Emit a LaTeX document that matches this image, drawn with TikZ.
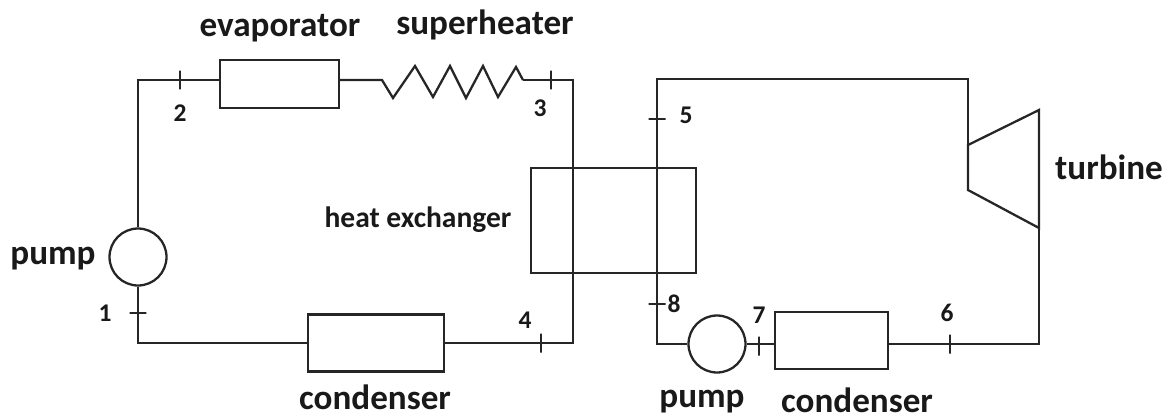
\documentclass[tikz,border=0pt]{standalone}
\usepackage{fontspec}
\setmainfont{Carlito}
\tikzset{
  wire/.style={draw=black!85, line width=1.3pt, line join=miter},
  unit/.style={wire, rectangle, inner sep=0pt},
  rotor/.style={wire, circle, inner sep=0pt, minimum size=1.14cm},
  vtick/.style={wire, rectangle, inner sep=0pt, minimum width=0pt, minimum height=0.38cm},
  htick/.style={wire, rectangle, inner sep=0pt, minimum height=0pt, minimum width=0.34cm},
  biglabel/.style={text=black!90, font=\fontsize{20}{22}\selectfont\bfseries, inner sep=0pt},
  midlabel/.style={text=black!90, font=\fontsize{16.8}{18}\selectfont\bfseries, inner sep=0pt},
  numlabel/.style={text=black!90, font=\fontsize{14.5}{16}\selectfont\bfseries, inner sep=0pt}
}
\begin{document}
\begin{tikzpicture}[x=0.02cm,y=-0.02cm]
    \useasboundingbox (0,0) rectangle (1171,419);
    % left loop
    \node[unit, minimum width=2.38cm, minimum height=0.96cm] (evaporator) at (279.5,84) {};
    \node[unit, minimum width=2.72cm, minimum height=1.14cm] (condenserA) at (376,343) {};
    \node[rotor] (pumpA) at (138,257) {};
    \node[vtick] (tick2) at (180,80) {};
    \node[vtick] (tick3) at (551,80) {};
    \node[vtick] (tick4) at (541,343) {};
    \node[htick] (tick1) at (138,313) {};
    \coordinate (coilin) at (382,80);
    \coordinate (coilout) at (523,80);
    \draw[wire] (pumpA.north) |- (evaporator.west |- tick2);
    \draw[wire] (evaporator.east |- tick2) -- (coilin)
      -- (393,98) -- (415,66) -- (433,97) -- (450,66) -- (466,98)
      -- (483,66) -- (498,97) -- (516,67) -- (coilout);
    \draw[wire] (coilout) -- (573,80) |- (condenserA.east);
    \draw[wire] (condenserA.west) -| (pumpA.south);
    % heat exchanger
    \node[unit, minimum width=3.3cm, minimum height=2.1cm] (exchanger) at (613.5,220.5) {};
    % right loop
    \node[rotor] (pumpB) at (717,344) {};
    \node[unit, minimum width=2.26cm, minimum height=1.14cm] (condenserB) at (831.5,340.5) {};
    \node[vtick] (tick6) at (950,344) {};
    \node[vtick] (tick7) at (759,346) {};
    \node[htick] (tick5) at (657,119) {};
    \node[htick] (tick8) at (657,304) {};
    \coordinate (inlet) at (968,145);
    \coordinate (outlet) at (1039,228);
    \draw[wire] (pumpB.west) -| (657,79) -| (inlet);
    \draw[wire] (inlet) -- (1039,110) -- (outlet) -- (968,190) -- cycle;
    \draw[wire] (outlet) |- (condenserB.east |- pumpB);
    \draw[wire] (pumpB.east) -- (condenserB.west |- pumpB);
    % labels
    \node[biglabel] (lblevap) at (280,28) {evaporator};
    \node[biglabel] (lblsuper) at (485,25) {superheater};
    \node[biglabel] (lblpumpA) at (53,259) {pump};
    \node[biglabel] (lblcondA) at (375,397) {condenser};
    \node[biglabel] (lblturbine) at (1109,167) {turbine};
    \node[biglabel] (lblpumpB) at (702,402) {pump};
    \node[biglabel] (lblcondB) at (857,400) {condenser};
    \node[midlabel] (lblexchanger) at (418,220) {heat exchanger};
    \node[numlabel] (num1) at (105,313) {1};
    \node[numlabel] (num2) at (180,113) {2};
    \node[numlabel] (num3) at (540,108) {3};
    \node[numlabel] (num4) at (525,320) {4};
    \node[numlabel] (num5) at (686,115) {5};
    \node[numlabel] (num6) at (947,313) {6};
    \node[numlabel] (num7) at (759,315) {7};
    \node[numlabel] (num8) at (674,304) {8};
\end{tikzpicture}
\end{document}
